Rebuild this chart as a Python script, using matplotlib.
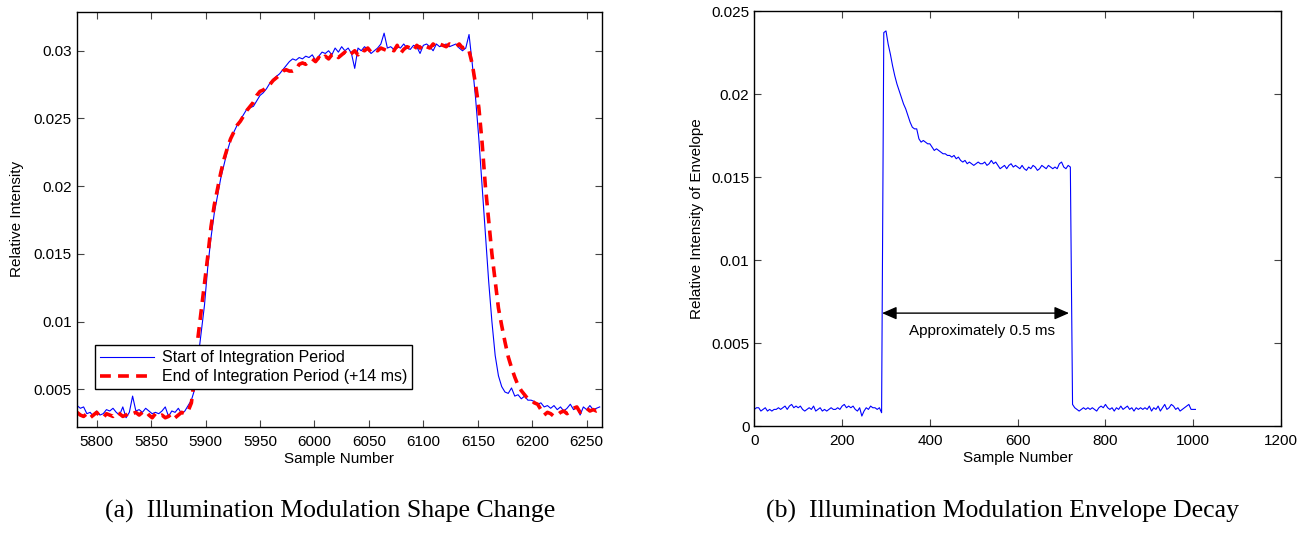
import numpy as np
import matplotlib
matplotlib.use('Agg')
import matplotlib.pyplot as plt

# (a) shape change: samples every 3 from 5782
start_x = np.arange(5782, 6265, 3)
start_period = [
    0.0038, 0.0036, 0.0037, 0.0032, 0.0033, 0.0030, 0.0034, 0.0031, 0.0032, 0.0035,
    0.0034, 0.0036, 0.0033, 0.0031, 0.0037, 0.0029, 0.0033, 0.0045, 0.0034, 0.0035,
    0.0033, 0.0036, 0.0034, 0.0032, 0.0033, 0.0032, 0.0034, 0.0037, 0.0030, 0.0034,
    0.0033, 0.0036, 0.0032, 0.0034, 0.0038, 0.0042, 0.0050, 0.0072, 0.0092, 0.0112,
    0.0140, 0.0162, 0.0180, 0.0193, 0.0206, 0.0216, 0.0226, 0.0234, 0.0240, 0.0245,
    0.0249, 0.0253, 0.0257, 0.0258, 0.0259, 0.0263, 0.0267, 0.0269, 0.0272, 0.0276,
    0.0279, 0.0281, 0.0283, 0.0286, 0.0289, 0.0292, 0.0294, 0.0293, 0.0295, 0.0294,
    0.0296, 0.0295, 0.0297, 0.0293, 0.0296, 0.0299, 0.0298, 0.0300, 0.0297, 0.0302,
    0.0299, 0.0303, 0.0300, 0.0302, 0.0298, 0.0287, 0.0302, 0.0300, 0.0303, 0.0301,
    0.0298, 0.0300, 0.0302, 0.0305, 0.0313, 0.0302, 0.0303, 0.0301, 0.0303, 0.0302,
    0.0305, 0.0302, 0.0301, 0.0304, 0.0303, 0.0298, 0.0304, 0.0305, 0.0303, 0.0300,
    0.0305, 0.0303, 0.0304, 0.0305, 0.0303, 0.0304, 0.0305, 0.0302, 0.0300, 0.0302,
    0.0312, 0.0290, 0.0265, 0.0235, 0.0200, 0.0165, 0.0130, 0.0100, 0.0075, 0.0060,
    0.0052, 0.0048, 0.0047, 0.0051, 0.0045, 0.0046, 0.0043, 0.0045, 0.0042, 0.0042,
    0.0041, 0.0039, 0.0040, 0.0037, 0.0038, 0.0036, 0.0038, 0.0035, 0.0037, 0.0034,
    0.0036, 0.0039, 0.0035, 0.0037, 0.0031, 0.0037, 0.0035, 0.0038, 0.0035, 0.0036,
    0.0037,
]
end_period = [
    0.0033, 0.0031, 0.0030, 0.0032, 0.0029, 0.0031, 0.0033, 0.0030, 0.0029, 0.0032,
    0.0031, 0.0030, 0.0033, 0.0032, 0.0030, 0.0031, 0.0033, 0.0032, 0.0033, 0.0031,
    0.0033, 0.0034, 0.0031, 0.0029, 0.0032, 0.0030, 0.0031, 0.0029, 0.0030, 0.0032,
    0.0029, 0.0031, 0.0033, 0.0032, 0.0034, 0.0040, 0.0060, 0.0088, 0.0108, 0.0128,
    0.0148, 0.0170, 0.0186, 0.0198, 0.0210, 0.0220, 0.0228, 0.0235, 0.0240, 0.0245,
    0.0248, 0.0252, 0.0256, 0.0259, 0.0262, 0.0267, 0.0270, 0.0271, 0.0273, 0.0275,
    0.0278, 0.0280, 0.0282, 0.0285, 0.0286, 0.0285, 0.0285, 0.0286, 0.0290, 0.0291,
    0.0290, 0.0292, 0.0294, 0.0292, 0.0295, 0.0293, 0.0296, 0.0294, 0.0297, 0.0298,
    0.0295, 0.0297, 0.0299, 0.0296, 0.0298, 0.0300, 0.0297, 0.0301, 0.0300, 0.0302,
    0.0299, 0.0301, 0.0300, 0.0302, 0.0301, 0.0300, 0.0301, 0.0300, 0.0304, 0.0298,
    0.0301, 0.0303, 0.0302, 0.0300, 0.0304, 0.0302, 0.0305, 0.0303, 0.0302, 0.0305,
    0.0303, 0.0305, 0.0304, 0.0303, 0.0305, 0.0304, 0.0303, 0.0305, 0.0302, 0.0303,
    0.0300, 0.0290, 0.0275, 0.0258, 0.0232, 0.0200, 0.0175, 0.0150, 0.0130, 0.0110,
    0.0097, 0.0085, 0.0074, 0.0066, 0.0059, 0.0053, 0.0049, 0.0046, 0.0043, 0.0042,
    0.0040, 0.0039, 0.0035, 0.0031, 0.0033, 0.0032, 0.0030, 0.0031, 0.0033, 0.0034,
    0.0032, 0.0034, 0.0036, 0.0037, 0.0033, 0.0035, 0.0036, 0.0034, 0.0035, 0.0034,
    0.0035,
]

# (b) envelope decay: samples every 5 from 0
env_x = np.arange(0, 1010, 5)
envelope = [
    0.0010, 0.0011, 0.0011, 0.0009, 0.0010, 0.0011, 0.0009, 0.0010, 0.0009, 0.0010,
    0.0010, 0.0011, 0.0010, 0.0011, 0.0012, 0.0010, 0.0012, 0.0013, 0.0011, 0.0012,
    0.0011, 0.0012, 0.0010, 0.0009, 0.0010, 0.0011, 0.0010, 0.0012, 0.0009, 0.0010,
    0.0011, 0.0009, 0.0010, 0.0009, 0.0010, 0.0011, 0.0010, 0.0010, 0.0011, 0.0010,
    0.0012, 0.0013, 0.0011, 0.0012, 0.0011, 0.0012, 0.0010, 0.0009, 0.0011, 0.0006,
    0.0009, 0.0011, 0.0010, 0.0012, 0.0011, 0.0011, 0.0010, 0.0011, 0.0008, 0.0237,
    0.0238, 0.0230, 0.0224, 0.0217, 0.0211, 0.0206, 0.0202, 0.0198, 0.0194, 0.0191,
    0.0187, 0.0183, 0.0180, 0.0179, 0.0179, 0.0173, 0.0171, 0.0172, 0.0171, 0.0170,
    0.0170, 0.0168, 0.0166, 0.0167, 0.0166, 0.0165, 0.0164, 0.0164, 0.0163, 0.0163,
    0.0162, 0.0163, 0.0161, 0.0162, 0.0160, 0.0159, 0.0160, 0.0158, 0.0159, 0.0158,
    0.0157, 0.0158, 0.0159, 0.0158, 0.0158, 0.0159, 0.0157, 0.0158, 0.0160, 0.0158,
    0.0159, 0.0157, 0.0155, 0.0156, 0.0157, 0.0155, 0.0157, 0.0158, 0.0156, 0.0157,
    0.0156, 0.0155, 0.0157, 0.0155, 0.0154, 0.0156, 0.0155, 0.0157, 0.0156, 0.0154,
    0.0155, 0.0157, 0.0156, 0.0155, 0.0157, 0.0156, 0.0155, 0.0156, 0.0155, 0.0158,
    0.0159, 0.0156, 0.0155, 0.0157, 0.0156, 0.0013, 0.0011, 0.0010, 0.0009, 0.0010,
    0.0011, 0.0010, 0.0011, 0.0010, 0.0011, 0.0010, 0.0009, 0.0011, 0.0012, 0.0011,
    0.0013, 0.0011, 0.0010, 0.0011, 0.0009, 0.0011, 0.0010, 0.0012, 0.0010, 0.0011,
    0.0012, 0.0010, 0.0011, 0.0009, 0.0011, 0.0010, 0.0011, 0.0010, 0.0011, 0.0010,
    0.0012, 0.0009, 0.0011, 0.0010, 0.0012, 0.0009, 0.0011, 0.0013, 0.0010, 0.0011,
    0.0013, 0.0012, 0.0010, 0.0011, 0.0009, 0.0010, 0.0011, 0.0012, 0.0013, 0.0010,
    0.0010, 0.0010,
]

plt.rcParams['font.family'] = 'Liberation Sans'
plt.rcParams['font.size'] = 11

fig = plt.figure(figsize=(13.1, 5.37), dpi=100)
ax1 = fig.add_axes([0.0585, 0.2054, 0.4012, 0.7722])
ax2 = fig.add_axes([0.5758, 0.2067, 0.4021, 0.7728])

for ax in (ax1, ax2):
    ax.tick_params(direction='in', top=True, right=True, length=5, width=0.8,
                   color='#444444', labelsize=11)
    ax.tick_params(axis='x', pad=6)
    for s in ax.spines.values():
        s.set_linewidth(1.0)

ax1.plot(start_x, start_period, color='#0000FF', lw=0.8, label='Start of Integration Period')
ax1.plot(start_x, end_period, color='#FF0000', lw=2.6, dashes=(3, 2),
         label='End of Integration Period (+14 ms)')
ax1.set_xlim(5781.6, 6264.3)
ax1.set_ylim(0.00224, 0.03286)
ax1.set_xticks(np.arange(5800, 6251, 50))
ax1.set_yticks([0.005, 0.01, 0.015, 0.02, 0.025, 0.03])
ax1.set_yticklabels(['0.005', '0.01', '0.015', '0.02', '0.025', '0.03'])
ax1.set_xlabel('Sample Number', labelpad=2)
ax1.set_ylabel('Relative Intensity', labelpad=7)
leg = ax1.legend(loc='lower left', bbox_to_anchor=(0.035, 0.091), fancybox=False,
                 edgecolor='black', framealpha=1, handlelength=3.4, fontsize=11.5,
                 borderpad=0.3, labelspacing=0.25, handletextpad=0.5, borderaxespad=0)
leg.get_frame().set_linewidth(1.0)

ax2.plot(env_x, envelope, color='#0000FF', lw=0.8)
ax2.set_xlim(0, 1200)
ax2.set_ylim(0, 0.025)
ax2.set_xticks(np.arange(0, 1201, 200))
ax2.set_yticks([0, 0.005, 0.01, 0.015, 0.02, 0.025])
ax2.set_yticklabels(['0', '0.005', '0.01', '0.015', '0.02', '0.025'])
ax2.set_xlabel('Sample Number', labelpad=2)
ax2.set_ylabel('Relative Intensity of Envelope', labelpad=5)
ax2.annotate('', xy=(291, 0.0068), xytext=(717, 0.0068),
             arrowprops=dict(arrowstyle='<|-|>,head_length=0.8,head_width=0.35',
                             color='black', lw=1.0, shrinkA=0, shrinkB=0))
ax2.text(518, 0.0057, 'Approximately 0.5 ms', ha='center', va='center', fontsize=11)

fig.text(0.252, 0.047, '(a)  Illumination Modulation Shape Change', ha='center', va='center',
         family='Liberation Serif', fontsize=18.5)
fig.text(0.765, 0.047, '(b)  Illumination Modulation Envelope Decay', ha='center', va='center',
         family='Liberation Serif', fontsize=18.5)

fig.savefig('out.png', dpi=100)
